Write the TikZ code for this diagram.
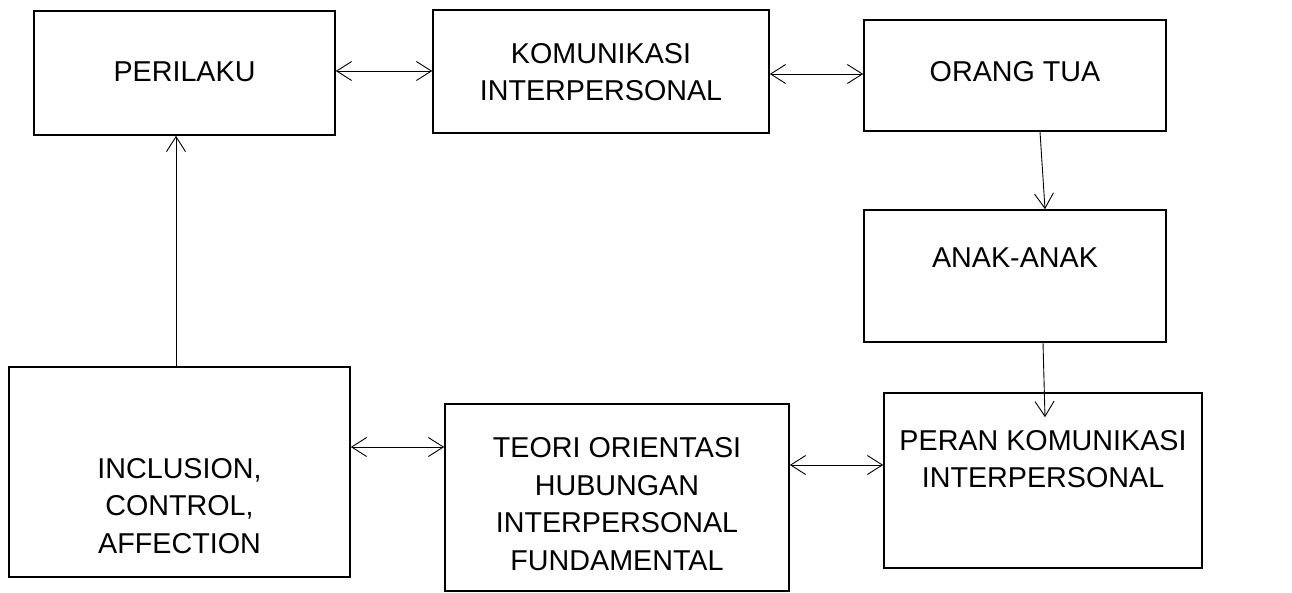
\documentclass[tikz,border=0pt]{standalone}
\usepackage{fontspec}
\setmainfont{Liberation Sans}
\usetikzlibrary{arrows.meta}

\begin{document}
\begin{tikzpicture}[x=1pt,y=-1pt,
    kotak/.style={draw, line width=1.6pt, inner sep=0pt},
    tulisan/.style={align=center, font=\fontsize{28.7}{37.5}\selectfont},
    panah/.style={line width=0.9pt, -{Straight Barb[length=15pt,width=19pt,line width=0.9pt]}},
    panahdua/.style={line width=0.9pt, {Straight Barb[length=15pt,width=19pt,line width=0.9pt]}-{Straight Barb[length=15pt,width=19pt,line width=0.9pt]}}]
        \useasboundingbox (0,0) rectangle (1292,592);

        % kotak-kotak
        \node [kotak, minimum width=301pt, minimum height=124pt] (perilaku) at (184.5,73) {};
        \node [kotak, minimum width=336pt, minimum height=123pt] (komunikasi) at (601,71.5) {};
        \node [kotak, minimum width=302pt, minimum height=111pt] (orangtua) at (1015,75.5) {};
        \node [kotak, minimum width=302pt, minimum height=132pt] (anak) at (1015,276) {};
        \node [kotak, minimum width=318pt, minimum height=175pt] (peran) at (1043,480.5) {};
        \node [kotak, minimum width=344pt, minimum height=187pt] (teori) at (617,497.5) {};
        \node [kotak, minimum width=341pt, minimum height=210pt] (inclusion) at (179.5,472) {};

        % tulisan
        \node [tulisan] (perilaku-t) at (184.5,72) {PERILAKU};
        \node [tulisan] (komunikasi-t) at (601,72) {KOMUNIKASI\\INTERPERSONAL};
        \node [tulisan] (orangtua-t) at (1015,72) {ORANG TUA};
        \node [tulisan] (anak-t) at (1015,258) {ANAK-ANAK};
        \node [tulisan] (peran-t) at (1043,459) {PERAN KOMUNIKASI\\INTERPERSONAL};
        \node [tulisan] (teori-t) at (617,504) {TEORI ORIENTASI\\HUBUNGAN\\INTERPERSONAL\\FUNDAMENTAL};
        \node [tulisan] (inclusion-t) at (179.5,506) {INCLUSION,\\CONTROL,\\AFFECTION};

        % panah
        \draw [panahdua] ([yshift=2pt]perilaku.east) -- ([yshift=2pt]perilaku.east -| komunikasi.west);
        \draw [panahdua] ([yshift=-2.5pt]komunikasi.east) -- ([yshift=-2.5pt]komunikasi.east -| orangtua.west);
        \draw [panah] ([xshift=25pt]orangtua.south) -- ([xshift=30pt]anak.north);
        \coordinate (peran-in) at ([xshift=2pt,yshift=-25pt]peran.north);
        \draw [panah] ([xshift=28pt]anak.south) -- (peran-in);
        \draw [panah] ([xshift=-3.5pt]inclusion.north) -- ([xshift=-3.5pt]inclusion.north |- perilaku.south);
        \draw [panahdua] ([yshift=25pt]inclusion.east) -- ([yshift=25pt]inclusion.east -| teori.west);
        \draw [panahdua] ([yshift=32.5pt]teori.east) -- ([yshift=32.5pt]teori.east -| peran.west);

\end{tikzpicture}
\end{document}
